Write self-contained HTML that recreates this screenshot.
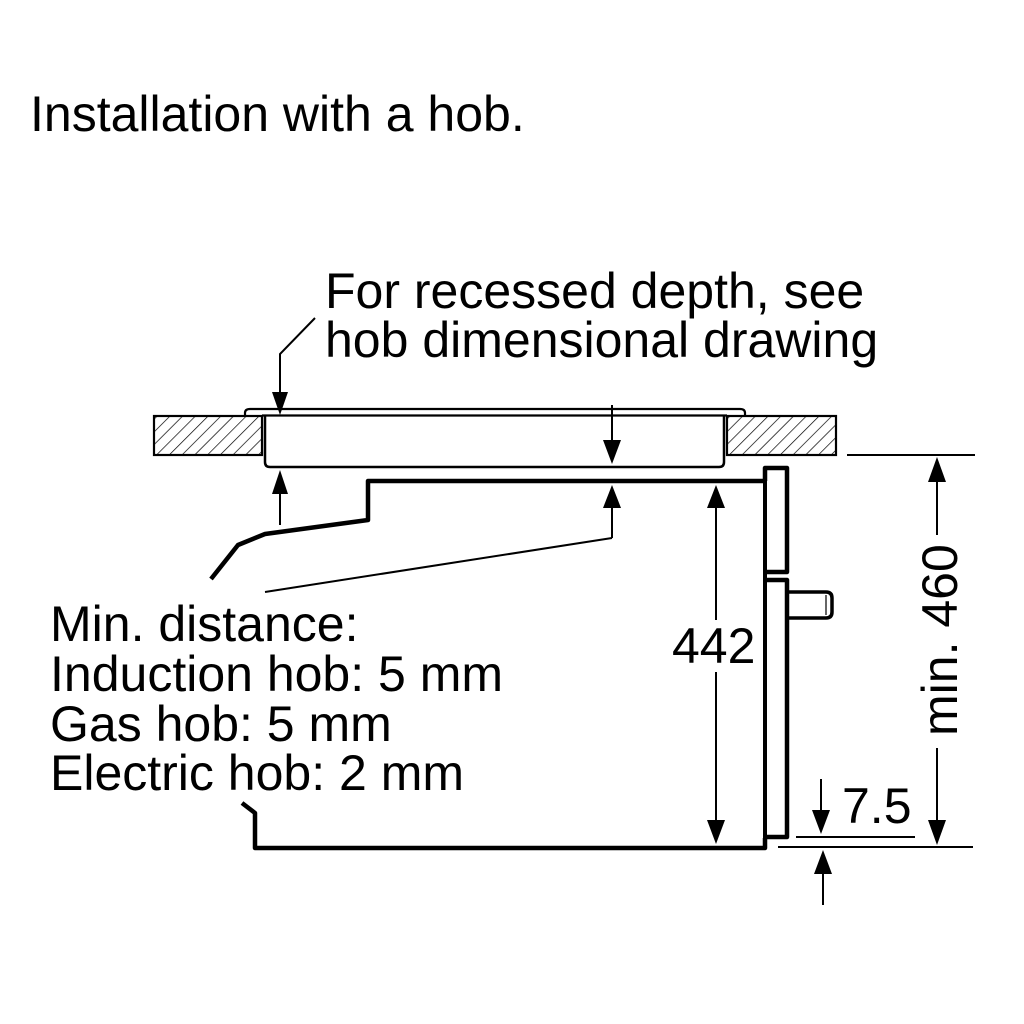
<!DOCTYPE html>
<html>
<head>
<meta charset="utf-8">
<style>
html,body{margin:0;padding:0;background:#fff;}
svg{display:block;}
text{font-family:"Liberation Sans",Arial,sans-serif;font-size:50px;fill:#000;}
</style>
</head>
<body>
<svg width="1024" height="1024" viewBox="0 0 1024 1024" xmlns="http://www.w3.org/2000/svg">
<defs>
<pattern id="hatch" patternUnits="userSpaceOnUse" width="9" height="9" patternTransform="rotate(45)">
<line x1="0" y1="0" x2="0" y2="9" stroke="#000" stroke-width="1.4"/>
</pattern>
</defs>
<rect width="1024" height="1024" fill="#fff"/>

<text x="30" y="131">Installation with a hob.</text>
<text x="325" y="308">For recessed depth, see</text>
<text x="325" y="357">hob dimensional drawing</text>

<text x="50" y="641">Min. distance:</text>
<text x="50" y="691">Induction hob: 5 mm</text>
<text x="50" y="741">Gas hob: 5 mm</text>
<text x="50" y="790">Electric hob: 2 mm</text>

<!-- countertops -->
<rect x="154" y="416" width="108" height="39" fill="url(#hatch)" stroke="#000" stroke-width="2.2"/>
<rect x="727" y="416" width="109" height="39" fill="url(#hatch)" stroke="#000" stroke-width="2.2"/>

<!-- hob plate -->
<path d="M245,416 L245,413 Q245,409 250,409 L740,409 Q745,409 745,413 L745,416" fill="none" stroke="#000" stroke-width="2.2"/>
<line x1="262" y1="415.5" x2="727" y2="415.5" stroke="#000" stroke-width="2.2"/>
<!-- hob body -->
<path d="M265,416 L265,462 Q265,467 270,467 L719,467 Q724,467 724,462 L724,416" fill="none" stroke="#000" stroke-width="2.5"/>

<!-- leader to top -->
<path d="M315,318 L280,354 L280,395" fill="none" stroke="#000" stroke-width="2"/>
<polygon points="272,392 288,392 280,415" fill="#000"/>

<!-- oven top -->
<path d="M211,579 L238,545 L265,534 L368,520 L368,481 L765,481" fill="none" stroke="#000" stroke-width="4.5" stroke-linejoin="round"/>

<!-- left up arrow -->
<line x1="280" y1="490" x2="280" y2="525" stroke="#000" stroke-width="2"/>
<polygon points="272,494 288,494 280,470" fill="#000"/>

<!-- middle arrows -->
<line x1="612" y1="405" x2="612" y2="445" stroke="#000" stroke-width="2"/>
<polygon points="603,440 621,440 612,464" fill="#000"/>
<line x1="612" y1="500" x2="612" y2="538" stroke="#000" stroke-width="2"/>
<polygon points="603,508 621,508 612,485" fill="#000"/>
<line x1="265" y1="592" x2="612" y2="538" stroke="#000" stroke-width="2"/>

<!-- 442 dimension -->
<line x1="716" y1="500" x2="716" y2="620" stroke="#000" stroke-width="2"/>
<line x1="716" y1="672" x2="716" y2="825" stroke="#000" stroke-width="2"/>
<polygon points="707,508 725,508 716,485" fill="#000"/>
<polygon points="707,820 725,820 716,844" fill="#000"/>
<text x="672" y="663">442</text>

<!-- oven front -->
<path d="M765,481 L765,468 L787,468 L787,572 L765,572" fill="none" stroke="#000" stroke-width="4.5" stroke-linejoin="round"/>
<path d="M765,468 L765,838" fill="none" stroke="#000" stroke-width="4"/>
<path d="M765,580 L787,580 L787,837 L765,837" fill="none" stroke="#000" stroke-width="4.5" stroke-linejoin="round"/>
<!-- knob -->
<path d="M787,592 L826,592 Q832,592 832,598 L832,612 Q832,618 826,618 L787,618" fill="none" stroke="#000" stroke-width="3.5"/>
<line x1="826" y1="595" x2="826" y2="615" stroke="#000" stroke-width="1.2"/>

<!-- oven bottom -->
<path d="M242,803 L255,813 L255,848 L765,848 L765,838" fill="none" stroke="#000" stroke-width="4.5" stroke-linejoin="round"/>

<!-- right dimension min 460 -->
<line x1="847" y1="455" x2="975" y2="455" stroke="#000" stroke-width="2"/>
<line x1="778" y1="847" x2="973" y2="847" stroke="#000" stroke-width="2"/>
<line x1="937" y1="475" x2="937" y2="535" stroke="#000" stroke-width="2"/>
<polygon points="928,482 946,482 937,457" fill="#000"/>
<line x1="937" y1="748" x2="937" y2="825" stroke="#000" stroke-width="2"/>
<polygon points="928,820 946,820 937,845" fill="#000"/>
<text transform="translate(957,736) rotate(-90)" x="0" y="0">min. 460</text>

<!-- 7.5 dimension -->
<line x1="796" y1="837" x2="915" y2="837" stroke="#000" stroke-width="2"/>
<line x1="821" y1="779" x2="821" y2="815" stroke="#000" stroke-width="2"/>
<polygon points="812,810 830,810 821,834" fill="#000"/>
<line x1="823" y1="870" x2="823" y2="905" stroke="#000" stroke-width="2"/>
<polygon points="814,874 832,874 823,850" fill="#000"/>
<text x="842" y="823">7.5</text>
</svg>
</body>
</html>
